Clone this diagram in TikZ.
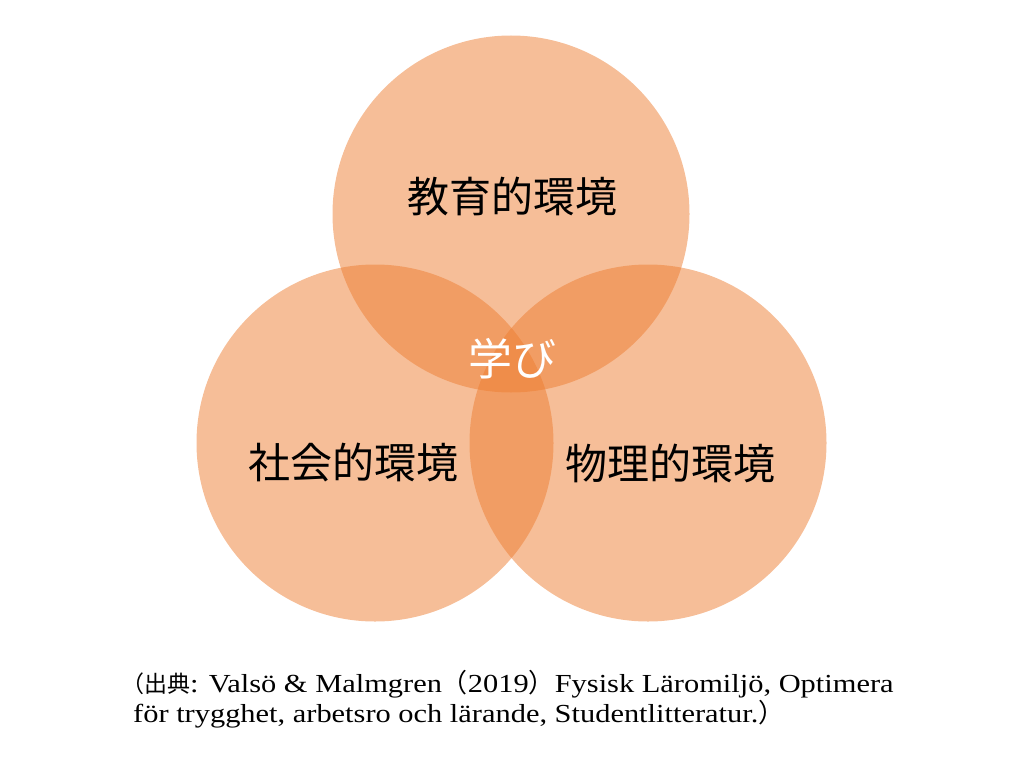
\documentclass[tikz,border=0pt]{standalone}
\usepackage{fontspec}
\setmainfont{Liberation Serif}[FakeStretch=1.17]
\newfontfamily\jpfont{Noto Sans CJK JP}
\usepackage{xcolor}
\usepackage{tikz}
\usetikzlibrary{positioning}
\definecolor{ringcolor}{RGB}{237,125,49}

\begin{document}
\begin{tikzpicture}[
    x=1pt, y=-1pt,
    ring/.style={circle, fill=ringcolor, fill opacity=0.5, minimum size=357pt, inner sep=0pt},
    label/.style={font=\jpfont\fontsize{42}{50}\selectfont, text=black, inner sep=0pt},
    core/.style={font=\jpfont\fontsize{44}{52}\selectfont, text=white, inner sep=0pt},
    cite/.style={font=\fontsize{26}{30}\selectfont, anchor=base west, inner sep=0pt}
]
    \useasboundingbox (0,0) rectangle (1024,768);

    % Circles
    \node[ring] (edu) at (511,214) {};
    \node[ring] (soc) at (375,443) {};
    \node[ring] (phy) at (648,443) {};

    % Labels
    \node[label] (edulabel) at (512,197) {教育的環境};
    \node[label] (soclabel) at (353,463) {社会的環境};
    \node[label] (phylabel) at (670,463) {物理的環境};
    \node[core] (learn) at (512,359) {学び};

    % Source
    \node[cite] (cite1) at (121,692) {{\jpfont\fontsize{23}{30}\selectfont （出典}: Valsö \& Malmgren{\jpfont （}2019{\jpfont ）}Fysisk Läromiljö, Optimera};
    \node[cite] (cite2) at (133,722) {för trygghet, arbetsro och lärande, Studentlitteratur.{\jpfont ）}};
\end{tikzpicture}
\end{document}
